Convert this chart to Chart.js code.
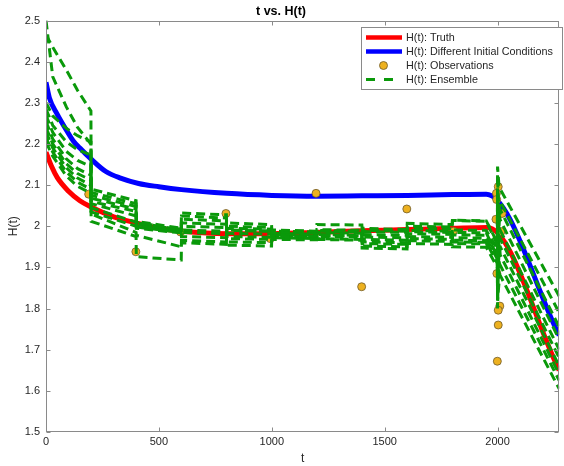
<!DOCTYPE html>
<html>
<head>
<meta charset="utf-8">
<script src="https://cdn.jsdelivr.net/npm/chart.js@4.4.1/dist/chart.umd.min.js"></script>
<style>
  body { margin: 0; background: #fff; }
  canvas { display: block; }
</style>
</head>
<body>
<canvas id="myChart" width="564" height="466"></canvas>
<script>
  // truth run
  const truthT = [0, 25, 50, 100, 150, 200, 300, 400, 500, 600, 800, 1000, 1200, 1400, 1600, 1800, 1955, 2273];
  const truthH = [2.180, 2.145, 2.118, 2.085, 2.062, 2.047, 2.023, 2.008, 1.995, 1.988, 1.982, 1.982, 1.985, 1.989, 1.992, 1.995, 1.997, 1.650];

  // run with different initial conditions
  const diffT = [0, 15, 50, 90, 120, 150, 200, 265, 330, 410, 500, 600, 800, 1000, 1200, 1400, 1600, 1800, 1950, 2273];
  const diffH = [2.350, 2.312, 2.272, 2.234, 2.208, 2.190, 2.163, 2.133, 2.117, 2.104, 2.096, 2.089, 2.080, 2.075, 2.073, 2.074, 2.075, 2.077, 2.078, 1.735];

  // observations
  const obsT = [189, 398, 596, 797, 993, 1196, 1398, 1598, 1804, 2003, 1995, 1996, 2020, 1993, 2015, 1997, 2010, 2003, 2003, 1999];
  const obsH = [2.078, 1.938, 1.986, 2.031, 1.970, 2.080, 1.853, 2.042, 1.988, 2.096, 2.080, 2.065, 2.031, 2.017, 1.987, 1.885, 1.806, 1.796, 1.760, 1.672];

  // ensemble members, all sampled at the same times (repeated times = analysis jumps)
  const ensT = [0, 30, 90, 140, 199, 200, 399, 400, 599, 600, 799, 800, 999, 1000, 1199, 1200, 1399, 1400, 1599, 1600, 1799, 1800, 1950, 1999, 2000, 2006, 2012, 2273];
  const ens1  = [2.500, 2.363, 2.290, 2.240, 2.200, 2.090, 2.062, 2.012, 1.995, 2.032, 2.028, 2.008, 2.004, 1.991, 1.988, 2.004, 2.003, 1.995, 1.992, 2.007, 2.004, 2.015, 2.013, 1.960, 2.145, 2.100, 2.090, 1.830];
  const ens2  = [2.465, 2.435, 2.380, 2.330, 2.280, 2.082, 2.055, 2.008, 1.992, 2.025, 2.020, 2.000, 1.997, 1.986, 1.984, 1.990, 1.988, 1.987, 1.985, 1.995, 1.993, 2.014, 2.012, 1.955, 2.110, 2.040, 2.060, 1.790];
  const ens3  = [2.300, 2.268, 2.238, 2.220, 2.205, 2.075, 2.048, 2.004, 1.990, 2.017, 2.013, 1.991, 1.988, 1.983, 1.981, 1.985, 1.983, 1.974, 1.972, 1.987, 1.985, 1.991, 1.990, 1.945, 2.080, 2.000, 2.040, 1.755];
  const ens4  = [2.285, 2.245, 2.205, 2.186, 2.173, 2.068, 2.042, 2.000, 1.988, 2.008, 2.005, 1.983, 1.981, 1.978, 1.976, 1.978, 1.977, 1.962, 1.960, 1.970, 1.968, 1.979, 1.978, 1.940, 1.850, 2.030, 2.015, 1.725];
  const ens5  = [2.270, 2.228, 2.182, 2.160, 2.145, 2.060, 2.036, 1.998, 1.985, 2.000, 1.997, 1.975, 1.973, 1.972, 1.970, 1.992, 1.990, 1.952, 1.950, 1.958, 1.956, 1.966, 1.965, 1.935, 1.800, 1.980, 1.990, 1.700];
  const ens6  = [2.255, 2.212, 2.164, 2.140, 2.124, 2.055, 2.025, 1.995, 1.984, 1.991, 1.988, 1.962, 1.960, 1.968, 1.967, 1.975, 1.974, 1.990, 1.988, 1.975, 1.973, 1.958, 1.957, 1.930, 2.000, 1.900, 1.970, 1.680];
  const ens7  = [2.240, 2.200, 2.152, 2.128, 2.112, 2.045, 2.010, 2.010, 1.990, 1.985, 1.982, 1.954, 1.952, 1.980, 1.978, 1.970, 1.968, 1.980, 1.978, 1.982, 1.980, 1.985, 1.984, 1.925, 1.830, 1.950, 1.950, 1.660];
  const ens8  = [2.230, 2.190, 2.142, 2.117, 2.100, 2.035, 2.000, 2.002, 1.993, 1.975, 1.972, 1.995, 1.993, 1.988, 1.986, 1.980, 1.978, 1.968, 1.966, 2.000, 1.998, 1.972, 1.971, 1.920, 1.890, 1.960, 1.930, 1.640];
  const ens9  = [2.215, 2.180, 2.132, 2.107, 2.090, 2.030, 1.985, 1.978, 1.950, 1.966, 1.962, 1.970, 1.968, 1.985, 1.983, 1.968, 1.966, 1.958, 1.956, 1.965, 1.963, 1.962, 1.961, 1.910, 2.050, 1.880, 1.905, 1.625];
  const ens10 = [2.205, 2.170, 2.122, 2.097, 2.080, 2.012, 1.975, 1.926, 1.918, 1.960, 1.956, 1.990, 1.988, 1.974, 1.972, 1.988, 1.986, 1.947, 1.945, 1.990, 1.988, 1.950, 1.949, 1.900, 1.820, 1.860, 1.880, 1.605];
  const ensembles = [ens1, ens2, ens3, ens4, ens5, ens6, ens7, ens8, ens9, ens10];

  const xTicks = [0, 500, 1000, 1500, 2000];

  const RED = '#ff0000', BLUE = '#0000ff', GREEN = '#0a990a', ORANGE = '#edb120';

  function pairs(ts, hs) {
    return ts.map((t, i) => ({x: t, y: hs[i]}));
  }

  Chart.defaults.font.family = '"Liberation Sans", Arial, Helvetica, sans-serif';
  Chart.defaults.color = '#262626';

  const datasets = [
    {label: 'H(t): Truth', data: pairs(truthT, truthH), borderColor: RED, borderWidth: 5, order: 4,
      cubicInterpolationMode: 'monotone', legend: 'line'},
    {label: 'H(t): Different Initial Conditions', data: pairs(diffT, diffH), borderColor: BLUE, borderWidth: 5, order: 3,
      cubicInterpolationMode: 'monotone', legend: 'line'},
    {label: 'H(t): Observations', data: pairs(obsT, obsH), showLine: false, pointRadius: 4,
      pointBackgroundColor: ORANGE, pointBorderColor: '#6e5a2a', pointBorderWidth: 0.8, order: 2, legend: 'dot'}
  ];
  ensembles.forEach((m, i) => {
    datasets.push({label: 'H(t): Ensemble', data: pairs(ensT, m), borderColor: GREEN, borderWidth: 3,
      borderDash: [9, 5], order: 1, legend: i === 0 ? 'dash' : null});
  });
  datasets.forEach(d => {
    d.fill = false;
    if (d.pointRadius === undefined) d.pointRadius = 0;
  });

  // axes box with inward ticks + boxed legend, MATLAB style
  const frame = {
    id: 'frame',
    afterDatasetsDraw(chart) {
      const {ctx, chartArea: a, scales: {x, y}} = chart;
      ctx.save();
      ctx.strokeStyle = '#8a8a8a';
      ctx.lineWidth = 1;
      const l = Math.round(a.left) + 0.5, r = Math.round(a.right) - 0.5;
      const t = Math.round(a.top) + 0.5, b = Math.round(a.bottom) - 0.5;
      ctx.strokeRect(l, t, r - l, b - t);
      ctx.beginPath();
      x.ticks.forEach(tk => {
        const p = Math.round(x.getPixelForValue(tk.value)) + 0.5;
        ctx.moveTo(p, b); ctx.lineTo(p, b - 4);
        ctx.moveTo(p, t); ctx.lineTo(p, t + 4);
      });
      y.ticks.forEach(tk => {
        const p = Math.round(y.getPixelForValue(tk.value)) + 0.5;
        ctx.moveTo(l, p); ctx.lineTo(l + 4, p);
        ctx.moveTo(r, p); ctx.lineTo(r - 4, p);
      });
      ctx.stroke();

      // legend
      const items = chart.data.datasets.filter(d => d.legend);
      const bx = 361.5, by = 27.5, bw = 201, bh = 62;
      ctx.fillStyle = '#fff';
      ctx.fillRect(bx, by, bw, bh);
      ctx.strokeStyle = '#8a8a8a';
      ctx.strokeRect(bx, by, bw, bh);
      ctx.font = '10.8px "Liberation Sans", Arial, sans-serif';
      ctx.textBaseline = 'middle';
      items.forEach((d, i) => {
        const cy = 37.5 + i * 14;
        if (d.legend === 'dot') {
          ctx.beginPath();
          ctx.arc(383.5, cy, 4, 0, Math.PI * 2);
          ctx.fillStyle = d.pointBackgroundColor;
          ctx.fill();
          ctx.lineWidth = 0.8;
          ctx.strokeStyle = d.pointBorderColor;
          ctx.stroke();
        } else {
          ctx.beginPath();
          ctx.lineWidth = d.legend === 'dash' ? 3 : 4.5;
          ctx.strokeStyle = d.borderColor;
          ctx.setLineDash(d.legend === 'dash' ? [9, 9] : []);
          ctx.moveTo(366, cy); ctx.lineTo(402, cy);
          ctx.stroke();
          ctx.setLineDash([]);
        }
        ctx.fillStyle = '#262626';
        ctx.fillText(d.label, 406, cy + 0.5);
      });
      ctx.restore();
    }
  };

  const canvas = document.getElementById('myChart');
  const chart = new Chart(canvas, {
    type: 'line',
    data: {datasets: datasets},
    options: {
      responsive: false,
      animation: false,
      layout: {padding: {left: 0, right: 2, top: 0, bottom: 0}},
      plugins: {
        legend: {display: false},
        tooltip: {enabled: false},
        title: {
          display: true,
          text: 't vs. H(t)',
          font: {size: 12.5, weight: 'bold'},
          color: '#000',
          padding: {top: 4, bottom: 1.5}
        }
      },
      scales: {
        x: {
          type: 'linear',
          min: 0,
          max: 2273,
          afterFit: s => { s.height = 34; },
          afterBuildTicks: s => { s.ticks = xTicks.map(v => ({value: v})); },
          grid: {display: false, drawTicks: false},
          border: {display: false},
          ticks: {font: {size: 11}, padding: 3, maxRotation: 0, includeBounds: false,
            callback: v => String(v)},
          title: {display: true, text: 't', font: {size: 12}, padding: {top: 0, bottom: 0}}
        },
        y: {
          type: 'linear',
          min: 1.5,
          max: 2.5,
          afterFit: s => { s.width = 46; },
          grid: {display: false, drawTicks: false},
          border: {display: false},
          ticks: {
            stepSize: 0.1,
            font: {size: 11},
            padding: 6,
            callback: v => String(Number(v.toFixed(1)))
          },
          title: {display: true, text: 'H(t)', font: {size: 12}, padding: {top: 6, bottom: 0}}
        }
      }
    },
    plugins: [frame]
  });
</script>
</body>
</html>
